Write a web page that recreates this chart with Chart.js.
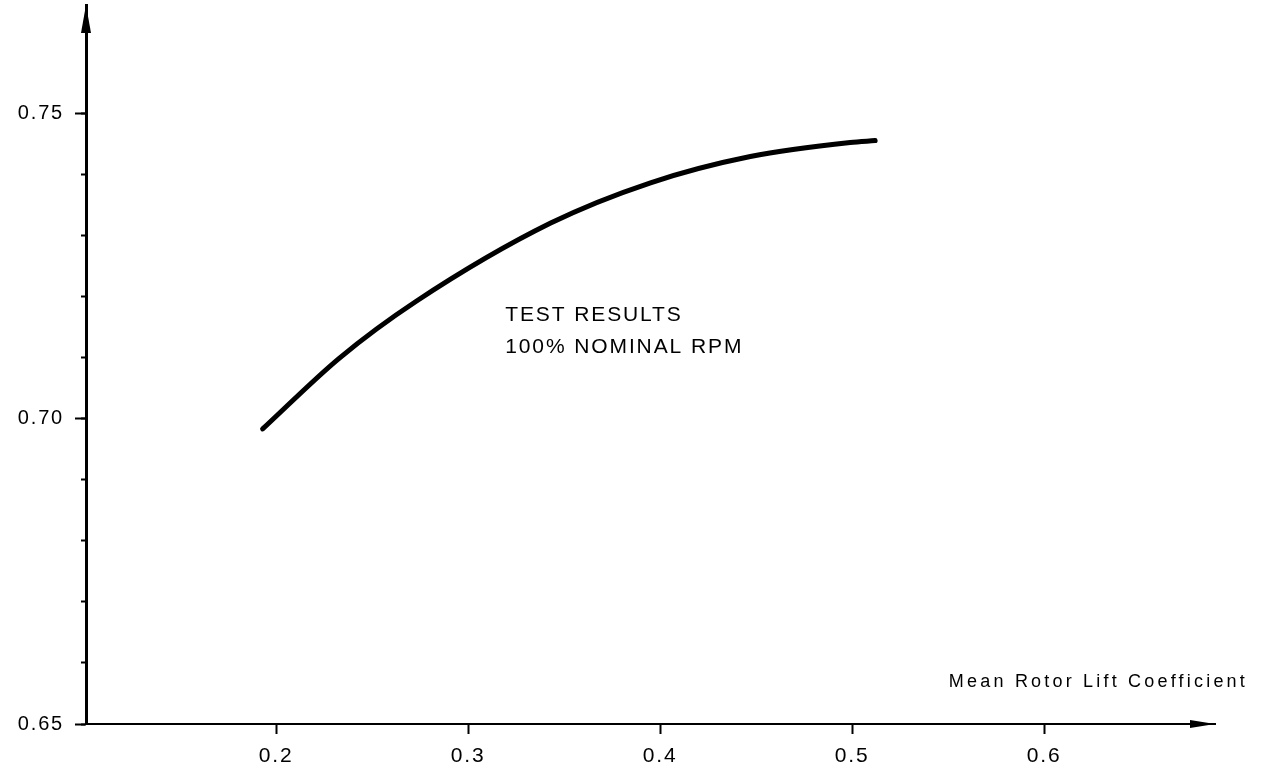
<!DOCTYPE html>
<html lang="en">
<head>
    <meta charset="UTF-8">
    <title>Mean Rotor Lift Coefficient</title>
    <script src="https://cdn.jsdelivr.net/npm/chart.js"></script>
    <style>
        html, body { margin: 0; padding: 0; background: #fff; }
        #wrap { width: 1263px; height: 771px; }
    </style>
</head>
<body>
    <div id="wrap"><canvas id="liftChart" width="1263" height="771"></canvas></div>

    <script>
        // values
        const liftCoeff  = [0.193, 0.233, 0.273, 0.343, 0.395, 0.447, 0.499, 0.512];
        const efficiency = [0.6983, 0.7099, 0.7192, 0.7320, 0.7386, 0.7429, 0.7452, 0.7455];

        const xTickLabels = ['0.2', '0.3', '0.4', '0.5', '0.6'];
        const yTickLabels = ['0.65', '0.70', '0.75'];
        const noteLines = ['TEST RESULTS', '100% NOMINAL RPM'];
        const xAxisTitle = 'Mean Rotor Lift Coefficient';

        const FONT = '"Liberation Sans", Arial, Helvetica, sans-serif';

        // no extra room for half tick labels, the axes sit exactly on the box
        const noPad = s => { s.paddingTop = 0; s.paddingBottom = 0; s.paddingLeft = 0; s.paddingRight = 0; };

        // axis arrows + free text
        const decorations = {
            id: 'decorations',
            beforeDraw(chart) {
                chart.ctx.letterSpacing = '1.8px';
            },
            afterDraw(chart) {
                const ctx = chart.ctx, x = chart.scales.x, y = chart.scales.y;
                const area = chart.chartArea;
                ctx.save();
                ctx.fillStyle = '#000';
                // y arrow
                ctx.beginPath();
                ctx.moveTo(area.left, area.top);
                ctx.lineTo(area.left - 5, area.top + 28);
                ctx.lineTo(area.left + 5, area.top + 28);
                ctx.closePath();
                ctx.fill();
                // x arrow
                ctx.beginPath();
                ctx.moveTo(area.right, area.bottom);
                ctx.lineTo(area.right - 25, area.bottom - 4);
                ctx.lineTo(area.right - 25, area.bottom + 4);
                ctx.closePath();
                ctx.fill();

                ctx.textBaseline = 'middle';
                ctx.textAlign = 'left';
                ctx.font = '21px ' + FONT;
                ctx.letterSpacing = '1.9px';
                const nx = x.getPixelForValue(0.3193);
                const ny = y.getPixelForValue(0.7169);
                noteLines.forEach((t, i) => ctx.fillText(t, nx, ny + i * 32));

                ctx.font = '18px ' + FONT;
                ctx.letterSpacing = '3.2px';
                ctx.textAlign = 'right';
                ctx.fillText(xAxisTitle, x.getPixelForValue(0.7062), y.getPixelForValue(0.6569));
                ctx.restore();
            }
        };

        new Chart(document.getElementById('liftChart'), {
            type: 'line',
            data: {
                datasets: [{
                    data: liftCoeff.map((v, i) => ({ x: v, y: efficiency[i] })),
                    borderColor: '#000',
                    borderWidth: 5,
                    borderCapStyle: 'round',
                    pointRadius: 0,
                    cubicInterpolationMode: 'monotone',
                    fill: false
                }]
            },
            options: {
                responsive: false,
                animation: false,
                layout: { padding: { top: 5, right: 48, left: 0, bottom: 0 } },
                plugins: { legend: { display: false }, tooltip: { enabled: false } },
                scales: {
                    x: {
                        type: 'linear',
                        min: 0.101,
                        max: 0.689,
                        afterBuildTicks: s => { s.ticks = xTickLabels.map(v => ({ value: +v })); },
                        afterFit: s => { s.height = 47; noPad(s); },
                        ticks: {
                            color: '#000',
                            padding: 10,
                            maxRotation: 0,
                            font: { family: FONT, size: 21 },
                            callback: v => xTickLabels.find(t => Math.abs(+t - v) < 1e-6) || ''
                        },
                        grid: { drawOnChartArea: false, tickLength: 10, tickWidth: 2, tickColor: '#000' },
                        border: { display: true, color: '#000', width: 2 }
                    },
                    y: {
                        type: 'linear',
                        position: 'left',
                        min: 0.65,
                        max: 0.7677,
                        afterBuildTicks: s => { s.ticks = yTickLabels.map(v => ({ value: +v })); },
                        afterFit: s => { s.width = 86; noPad(s); },
                        ticks: {
                            color: '#000',
                            padding: 11,
                            font: { family: FONT, size: 20 },
                            callback: v => yTickLabels.find(t => Math.abs(+t - v) < 1e-6) || ''
                        },
                        grid: { drawOnChartArea: false, tickLength: 11, tickWidth: 2, tickColor: '#000' },
                        border: { display: true, color: '#000', width: 3 }
                    },
                    yMinor: {
                        type: 'linear',
                        position: 'left',
                        weight: -1,
                        min: 0.65,
                        max: 0.7677,
                        afterBuildTicks: s => {
                            const t = [];
                            for (let k = 65; k <= 75; k++) t.push({ value: k / 100 });
                            s.ticks = t;
                        },
                        afterFit: s => { s.width = 0; noPad(s); },
                        ticks: { display: false },
                        grid: { drawOnChartArea: false, tickLength: 5, tickWidth: 2, tickColor: '#000' },
                        border: { display: false }
                    }
                }
            },
            plugins: [decorations]
        });
    </script>
</body>
</html>
